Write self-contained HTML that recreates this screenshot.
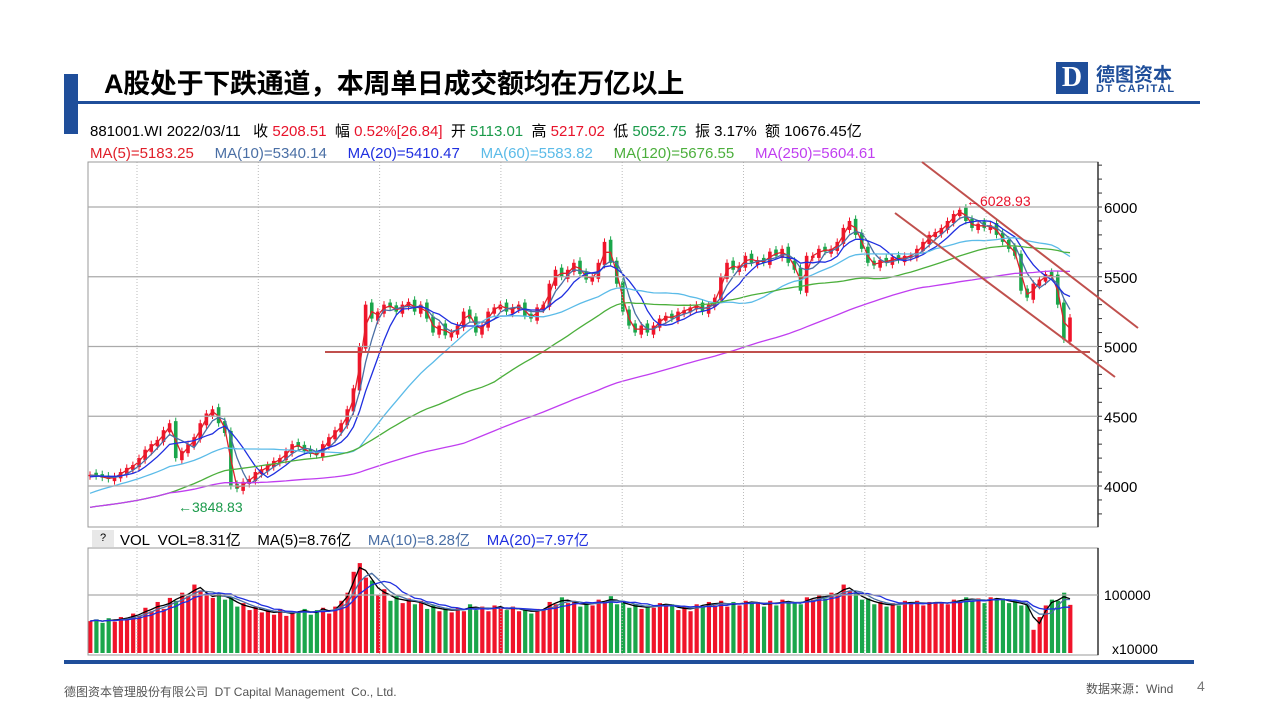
<!DOCTYPE html>
<html><head><meta charset="utf-8">
<style>
body{margin:0;background:#fff;}
#root{position:relative;width:1280px;height:720px;overflow:hidden;background:#fff;font-family:"Liberation Sans","Noto Sans CJK SC",sans-serif;}
.abs{position:absolute;white-space:nowrap;}
</style></head><body>
<div id="root">
<div class="abs" style="left:64px;top:74px;width:14px;height:60px;background:#1f4e9a"></div>
<div class="abs" style="left:104px;top:68px;font-size:27px;line-height:32px;font-weight:bold;color:#000;letter-spacing:-0.3px">A股处于下跌通道，本周单日成交额均在万亿以上</div>
<div class="abs" style="left:78px;top:101px;width:1122px;height:3px;background:#1f4e9a"></div>
<div class="abs" style="left:1056px;top:62px;width:32px;height:32px;background:#1f4e9a;color:#fff;font-weight:bold;font-size:28px;line-height:32px;text-align:center;font-family:'Liberation Serif',serif">D</div>
<div class="abs" style="left:1096px;top:60px;font-size:19px;color:#1f4e9a;font-weight:bold">德图资本</div>
<div class="abs" style="left:1096px;top:83px;font-size:11px;color:#1f4e9a;font-weight:bold;letter-spacing:1.5px">DT CAPITAL</div>

<div class="abs" style="left:90px;top:120px;font-size:15px;color:#000">881001.WI 2022/03/11 &nbsp; 收 <span style="color:#e8132b">5208.51</span> &nbsp;幅 <span style="color:#e8132b">0.52%[26.84]</span> &nbsp;开 <span style="color:#1a9a4a">5113.01</span> &nbsp;高 <span style="color:#e8132b">5217.02</span> &nbsp;低 <span style="color:#1a9a4a">5052.75</span> &nbsp;振 3.17% &nbsp;额 10676.45亿</div>
<div class="abs" style="left:90px;top:145px;font-size:15px">
<span style="color:#e0202a">MA(5)=5183.25</span>&nbsp;&nbsp;&nbsp;&nbsp;
<span style="color:#4a6fa5">MA(10)=5340.14</span>&nbsp;&nbsp;&nbsp;&nbsp;
<span style="color:#1f2fe0">MA(20)=5410.47</span>&nbsp;&nbsp;&nbsp;&nbsp;
<span style="color:#5bbbe8">MA(60)=5583.82</span>&nbsp;&nbsp;&nbsp;&nbsp;
<span style="color:#4caf3c">MA(120)=5676.55</span>&nbsp;&nbsp;&nbsp;&nbsp;
<span style="color:#c03ef0">MA(250)=5604.61</span></div>

<div class="abs" style="left:92px;top:530px;width:22px;height:17px;background:#e8e8e8;font-size:11px;text-align:center;line-height:17px">?</div>
<div class="abs" style="left:120px;top:529px;font-size:15px;color:#000">VOL &nbsp;VOL=8.31亿 &nbsp;&nbsp;&nbsp;MA(5)=8.76亿 &nbsp;&nbsp;&nbsp;<span style="color:#4a6fa5">MA(10)=8.28亿</span> &nbsp;&nbsp;&nbsp;<span style="color:#1f2fe0">MA(20)=7.97亿</span></div>

<svg id="chart" class="abs" style="left:0;top:0" width="1280" height="720">
<defs><clipPath id="cp"><rect x="88" y="162" width="1010" height="365"/></clipPath>
<clipPath id="cv"><rect x="88" y="548" width="1010" height="107"/></clipPath></defs>
<g id="gp" clip-path="url(#cp)"></g><g id="gv" clip-path="url(#cv)"></g>
</svg>

<div class="abs" style="left:64px;top:660px;width:1130px;height:4px;background:#1f4e9a"></div>
<div class="abs" style="left:64px;top:683px;font-size:12px;color:#555">德图资本管理股份有限公司 &nbsp;DT Capital Management &nbsp;Co., Ltd.</div>
<div class="abs" style="left:1086px;top:680px;font-size:12px;color:#555">数据来源：Wind</div>
<div class="abs" style="left:1197px;top:678px;font-size:14px;color:#777">4</div>
</div>
<script>
const closes=[4080,4070,4060,4050,4070,4100,4130,4150,4200,4260,
4300,4330,4400,4450,4200,4250,4300,4350,4450,4520,
4550,4450,4380,4000,3980,4030,4050,4100,4120,4150,
4180,4200,4250,4300,4280,4250,4230,4220,4300,4350,
4400,4450,4550,4700,5000,5300,5200,5250,5300,5280,
5250,5300,5320,5250,5300,5200,5100,5150,5080,5100,
5150,5250,5200,5100,5150,5250,5280,5300,5250,5280,
5300,5220,5200,5280,5300,5450,5550,5500,5550,5600,
5520,5480,5500,5600,5750,5600,5450,5250,5150,5100,
5150,5100,5150,5200,5220,5200,5250,5260,5280,5300,
5250,5300,5350,5500,5600,5550,5580,5650,5600,5620,
5600,5680,5650,5700,5600,5550,5400,5650,5650,5700,
5680,5700,5750,5850,5900,5800,5700,5600,5580,5620,
5600,5640,5620,5650,5650,5700,5750,5800,5820,5850,
5900,5950,5980,5900,5850,5880,5850,5870,5800,5750,
5700,5650,5400,5350,5450,5480,5520,5500,5300,5050,5208];
const history=[3500,3520,3550,3580,3600,3620,3650,3680,3700,3720,3750,3780,3800,3820,3850,3870,3900,3920,3950,3970,4000,4010,4020,4030,4040,4050,4060,4070,4080,4075];
const volumes=[55,58,52,60,54,62,58,68,64,78,72,88,76,95,90,104,98,118,108,100,
95,104,92,96,80,86,74,80,70,74,66,76,64,72,70,76,66,74,78,68,
80,90,104,140,155,130,125,100,110,90,98,86,94,84,90,76,82,72,78,70,
78,72,84,74,80,72,82,78,74,80,72,76,68,76,74,88,84,96,86,90,
80,88,82,92,86,98,84,90,78,84,76,82,78,86,82,84,74,80,72,84,
80,88,82,90,80,88,82,90,86,88,80,90,82,92,86,88,84,96,92,100,
94,104,100,118,106,104,92,94,84,88,80,86,82,90,84,90,82,88,86,88,
84,92,88,96,90,94,86,96,92,94,86,90,82,84,40,62,82,92,90,104,83];
const priceTicks=[4000,4500,5000,5500,6000];
const volTicks=[100000];
const maPeriods=[2,4,7,22,44,92];
const volMaPeriods=[2,4,7];
const hiMark="6028.93", loMark="3848.83";

const svg=document.getElementById('chart');
const gp=document.getElementById('gp'),gv=document.getElementById('gv');
const NS='http://www.w3.org/2000/svg';
const X0=90,X1=1070,N=closes.length;
const xs=i=>X0+i*(X1-X0)/(N-1);
const yP=v=>207+(6000-v)*139.5/1000;
const yV=v=>653-v*58/100000;
function mk(t,a,p){const e=document.createElementNS(NS,t);for(const k in a)e.setAttribute(k,a[k]);(p||svg).appendChild(e);return e;}
let e;
for(let k=0;k<8;k++){const x=137+k*121.3;
e=mk('line',{x1:x,y1:162,x2:x,y2:527,stroke:'#bbb','stroke-dasharray':'1,2'});


e=mk('line',{x1:x,y1:548,x2:x,y2:655,stroke:'#bbb','stroke-dasharray':'1,2'});

}
e=mk('rect',{x:88,y:162,width:1010,height:365,fill:'none',stroke:'#999','stroke-width':1});


e=mk('rect',{x:88,y:548,width:1010,height:107,fill:'none',stroke:'#999','stroke-width':1});


e=mk('line',{x1:1098,y1:162,x2:1098,y2:527,stroke:'#333','stroke-width':1.5});


e=mk('line',{x1:1098,y1:548,x2:1098,y2:655,stroke:'#333','stroke-width':1.5});


priceTicks.forEach(v=>{const y=yP(v);
e=mk('line',{x1:88,y1:y,x2:1098,y2:y,stroke:'#aaa','stroke-width':1.2});


e=mk('text',{x:1104,y:y+6,'font-size':15,fill:'#000'});e.textContent=v;

});
for(let v=3800;v<=6300;v+=100){const y=yP(v);if(y<163||y>526)continue;
e=mk('line',{x1:1098,y1:y,x2:1102,y2:y,stroke:'#333'});

}
volTicks.forEach(v=>{const y=yV(v);
e=mk('line',{x1:88,y1:y,x2:1098,y2:y,stroke:'#aaa','stroke-width':1.2});


e=mk('text',{x:1104,y:y+5,'font-size':14,fill:'#000'});e.textContent=v;

});
e=mk('text',{x:1112,y:654,'font-size':14,fill:'#000'});e.textContent='x10000';


const cw=3.6;
for(let i=0;i<N;i++){
 const c=closes[i],o=i?closes[i-1]+(closes[i]>=closes[i-1]?-15:15):c-10;
 const up=c>=o,col=up?'#f0142a':'#1aa64b',x=xs(i);
 e=mk('line',{x1:x,y1:yP(Math.max(o,c)+25),x2:x,y2:yP(Math.min(o,c)-25),stroke:col,'stroke-width':1},gp);
 
 
 const yt=yP(Math.max(o,c)),yb=yP(Math.min(o,c));
 e=mk('rect',{x:x-cw/2,y:yt,width:cw,height:Math.max(1,yb-yt),fill:col},gp);
 
 
 const vv=volumes[i]*1000;
 e=mk('rect',{x:x-cw/2,y:yV(vv),width:cw+0.6,height:653-yV(vv),fill:col},gv);
 
 
}
function ma(arr,p,pre){const full=pre.concat(arr),off=pre.length;return arr.map((_,i)=>{const j=i+off,s=Math.max(0,j-p+1);let t=0;for(let k=s;k<=j;k++)t+=full[k];return t/(j-s+1);});}
function line(vals,yf,col,w,name,g){const d=vals.map((v,i)=>(i?'L':'M')+xs(i).toFixed(1)+','+yf(v).toFixed(1)).join('');
 const el=mk('path',{d:d,fill:'none',stroke:col,'stroke-width':w},g);
 
 }
const maCols=['#e0202a','#4a6fa5','#1f2fe0','#5bbbe8','#4caf3c','#c03ef0'];
const maNames=['ma5-line','ma10-line','ma20-line','ma60-line','ma120-line','ma250-line'];
maPeriods.forEach((p,k)=>line(ma(closes,p,history),yP,maCols[k],1.3,maNames[k],gp));
const vcols=['#000','#4a6fa5','#1f2fe0'],vnames=['vol-ma5-line','vol-ma10-line','vol-ma20-line'];
const vabs=volumes.map(v=>v*1000);
volMaPeriods.forEach((p,k)=>line(ma(vabs,p,[]),yV,vcols[k],1.3,vnames[k],gv));
e=mk('line',{x1:922,y1:162,x2:1138,y2:328,stroke:'#c0504d','stroke-width':2});


e=mk('line',{x1:895,y1:213,x2:1115,y2:377,stroke:'#c0504d','stroke-width':2});


e=mk('line',{x1:325,y1:352,x2:1090,y2:352,stroke:'#c0504d','stroke-width':2});


e=mk('text',{x:966,y:206,'font-size':14,fill:'#e8132b'});e.textContent='←'+hiMark;


e=mk('text',{x:178,y:512,'font-size':14,fill:'#1a9a4a'});e.textContent='←'+loMark;


</script>
</body></html>
